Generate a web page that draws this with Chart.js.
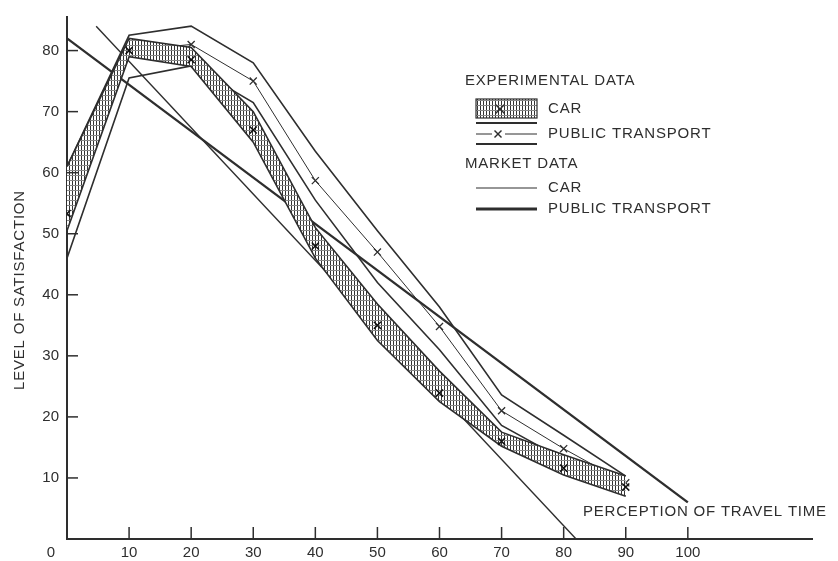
<!DOCTYPE html>
<html>
<head>
<meta charset="utf-8">
<script src="https://cdn.jsdelivr.net/npm/chart.js@4.4.0/dist/chart.umd.min.js"></script>
<style>
  html, body { margin: 0; padding: 0; background: #fff; }
  #wrap { width: 838px; height: 561px; }
</style>
</head>
<body>
<div id="wrap"><canvas id="chart"></canvas></div>
<script>
// perception of travel time (x) for the experimental points
const xCats = [0, 10, 20, 30, 40, 50, 60, 70, 80, 90];

// experimental data, public transport: band edges and centre (x marks)
const ptUpper = [61, 82.5, 84, 78, 63.5, 50.5, 38, 23.6, 17, 10.3];
const ptMid   = [56, 80, 81, 75, 58.7, 47, 34.8, 21, 14.8, 9.2];
const ptLower = [46, 75.5, 77.5, 71.5, 55.5, 42, 31, 18.6, 13, 8.5];

// experimental data, car: hatched band and centre (x marks)
const carUpper = [61, 82, 80.5, 70, 51, 38.5, 27.5, 17.5, 13.8, 10.3];
const carMid   = [53.3, 80, 78.5, 67, 48, 35, 23.9, 16, 11.6, 8.5];
const carLower = [50.5, 79, 77.4, 65, 46, 32.5, 22.5, 15.2, 10.5, 7];

// market data (straight lines)
const marketCarX = [4.7, 82];
const marketCarY = [84, 0];
const marketPtX = [0, 100];
const marketPtY = [82, 6];

// tick labels
const xTicks = [0, 10, 20, 30, 40, 50, 60, 70, 80, 90, 100];
const yTicks = [10, 20, 30, 40, 50, 60, 70, 80];

const ink = '#2e2e2e';
const textFont = '15px "Liberation Sans", Arial, sans-serif';

// hatch pattern for the car band
function makeHatch() {
  const c = document.createElement('canvas');
  c.width = 3; c.height = 5;
  const g = c.getContext('2d');
  g.fillStyle = '#fff';
  g.fillRect(0, 0, 3, 5);
  g.fillStyle = '#333';
  g.fillRect(0, 0, 1, 5);
  g.fillStyle = '#888';
  g.fillRect(0, 0, 3, 1);
  return g.createPattern(c, 'repeat');
}
const hatch = makeHatch();

function pts(xs, ys) {
  return xs.map((v, i) => ({ x: v, y: ys[i] }));
}

function line(ctx, x1, y1, x2, y2, w) {
  ctx.lineWidth = w;
  ctx.beginPath();
  ctx.moveTo(x1, y1);
  ctx.lineTo(x2, y2);
  ctx.stroke();
}

function drawX(ctx, cx, cy, r) {
  line(ctx, cx - r, cy - r, cx + r, cy + r, 1.4);
  line(ctx, cx - r, cy + r, cx + r, cy - r, 1.4);
}

// inner tick marks, titles and the grouped legend
const decor = {
  id: 'decor',
  afterDraw(chart) {
    const ctx = chart.ctx;
    const area = chart.chartArea;
    const xs = chart.scales.x, ys = chart.scales.y;
    ctx.save();
    ctx.strokeStyle = ink;
    ctx.fillStyle = ink;

    xTicks.forEach(v => {
      if (v === 0) return;
      const px = xs.getPixelForValue(v);
      line(ctx, px, area.bottom, px, area.bottom - 12, 1.5);
    });
    yTicks.forEach(v => {
      const py = ys.getPixelForValue(v);
      line(ctx, area.left, py, area.left + 11, py, 1.5);
    });

    ctx.font = textFont;
    ctx.textBaseline = 'middle';
    ctx.textAlign = 'center';
    ctx.fillText('0', area.left - 16, area.bottom + 14);

    if ('letterSpacing' in ctx) ctx.letterSpacing = '0.8px';
    ctx.textAlign = 'left';
    ctx.fillText('PERCEPTION OF TRAVEL TIME', 583, 512);

    ctx.save();
    ctx.translate(20, 290);
    ctx.rotate(-Math.PI / 2);
    ctx.textAlign = 'center';
    ctx.fillText('LEVEL OF SATISFACTION', 0, 0);
    ctx.restore();

    // legend
    ctx.fillText('EXPERIMENTAL DATA', 465, 81);
    ctx.fillText('CAR', 548, 109);
    ctx.fillText('PUBLIC TRANSPORT', 548, 134);
    ctx.fillText('MARKET DATA', 465, 164);
    ctx.fillText('CAR', 548, 188);
    ctx.fillText('PUBLIC TRANSPORT', 548, 209);

    ctx.fillStyle = hatch;
    ctx.fillRect(476, 99, 61, 19);
    ctx.lineWidth = 1.2;
    ctx.strokeRect(476, 99, 61, 19);
    drawX(ctx, 500, 109, 4.5);

    line(ctx, 476, 123, 537, 123, 2);
    line(ctx, 476, 134, 492, 134, 1);
    line(ctx, 505, 134, 537, 134, 1);
    drawX(ctx, 498, 134, 3.5);
    line(ctx, 476, 144, 537, 144, 2);

    line(ctx, 476, 188, 537, 188, 1.2);
    line(ctx, 476, 209, 537, 209, 3);
    ctx.restore();
  }
};

const thin = { borderColor: ink, pointRadius: 0, tension: 0, fill: false };

new Chart(document.getElementById('chart'), {
  type: 'line',
  data: {
    datasets: [
      { ...thin, label: 'Car (experimental) upper', data: pts(xCats, carUpper), borderWidth: 1.6 },
      { ...thin, label: 'Car (experimental) lower', data: pts(xCats, carLower), borderWidth: 1.6,
        fill: '-1', backgroundColor: hatch },
      { label: 'Car (experimental)', data: pts(xCats, carMid), showLine: false, order: -1,
        pointStyle: 'crossRot', pointRadius: 5, pointBorderWidth: 1.5,
        borderColor: '#111', pointBorderColor: '#111' },
      { ...thin, label: 'Public transport (experimental) upper', data: pts(xCats, ptUpper), borderWidth: 1.6 },
      { ...thin, label: 'Public transport (experimental)', data: pts(xCats, ptMid), borderWidth: 1,
        pointStyle: 'crossRot', pointRadius: 5, pointBorderWidth: 1.3 },
      { ...thin, label: 'Public transport (experimental) lower', data: pts(xCats, ptLower), borderWidth: 1.6 },
      { ...thin, label: 'Car (market)', data: pts(marketCarX, marketCarY), borderWidth: 1.4 },
      { ...thin, label: 'Public transport (market)', data: pts(marketPtX, marketPtY), borderWidth: 2.4 }
    ]
  },
  options: {
    responsive: true,
    maintainAspectRatio: false,
    animation: false,
    layout: { padding: { top: 7, right: 26, left: 0, bottom: 0 } },
    plugins: {
      legend: { display: false },
      tooltip: { enabled: false }
    },
    scales: {
      x: {
        type: 'linear',
        min: 0,
        max: 120,
        afterBuildTicks: s => { s.ticks = xTicks.map(v => ({ value: v })); },
        afterFit: s => { s.height = 22; },
        ticks: {
          callback: v => (v === 0 ? '' : v),
          color: ink,
          font: { family: '"Liberation Sans", Arial, sans-serif', size: 15 },
          padding: 5,
          maxRotation: 0
        },
        grid: { drawOnChartArea: false, drawTicks: false },
        border: { color: ink, width: 2 }
      },
      y: {
        min: 0,
        max: 85.5,
        afterBuildTicks: s => { s.ticks = yTicks.map(v => ({ value: v })); },
        afterFit: s => { s.width = 67; },
        ticks: {
          color: ink,
          font: { family: '"Liberation Sans", Arial, sans-serif', size: 15 },
          padding: 8
        },
        grid: { drawOnChartArea: false, drawTicks: false },
        border: { color: ink, width: 2 }
      }
    }
  },
  plugins: [decor]
});
</script>
</body>
</html>
